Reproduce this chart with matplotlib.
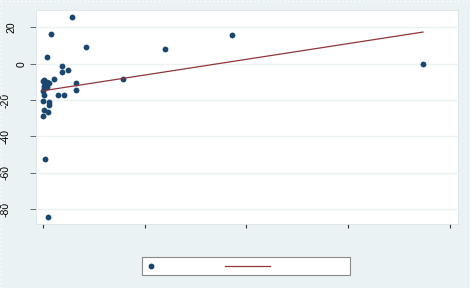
import matplotlib
matplotlib.use("Agg")
import matplotlib.pyplot as plt
from matplotlib.lines import Line2D
from matplotlib.patches import Rectangle
from matplotlib.legend_handler import HandlerLine2DCompound
from matplotlib.transforms import ScaledTranslation
import numpy as np

# ---- data ----
x_vals = [0.285, 0.078, 0.428, 0.042, 0.192, 0.245, 0.189, 0.108, 0.013, 0.0,
          0.039, 0.065, 0.026, 0.010, 0.039, 0.016, 0.006, 0.016, 0.327, 0.330,
          0.147, 0.209, 0.006, 0.059, 0.062, 0.013, 0.055, 0.0, 0.023, 0.049,
          0.790, 1.197, 1.860, 3.732]
y_vals = [25.8, 16.2, 9.0, 3.8, -1.1, -3.3, -4.7, -8.4, -8.8, -9.3,
          -9.9, -10.8, -11.2, -12.1, -12.6, -13.5, -15.0, -17.2, -10.4, -14.3,
          -17.0, -17.4, -20.3, -21.0, -22.5, -25.4, -26.7, -28.6, -52.4, -84.4,
          -8.5, 8.2, 15.9, 0.0]
fit_intercept = -14.9
fit_slope = 8.65
y_ticks = [20, 0, -20, -40, -60, -80]
x_ticks = [0, 1, 2, 3, 4]

BG = "#eaf2f3"
NAVY = "#1a476f"
MAROON = "#90353b"

plt.rcParams["font.family"] = ["Liberation Sans", "DejaVu Sans"]

fig = plt.figure(figsize=(4.76, 2.88), dpi=100, facecolor=BG)

# white strip at the right edge and dotted outer border (as in the reference)
fig.patches.append(Rectangle((470 / 476, 0), 6 / 476, 1, transform=fig.transFigure,
                             facecolor="white", edgecolor="none", zorder=0))
fig.add_artist(Line2D([0, 470 / 476], [0.998, 0.998], transform=fig.transFigure,
                      color="white", linewidth=1, linestyle=(0, (1, 2))))
fig.add_artist(Line2D([0.002, 0.002], [0, 1], transform=fig.transFigure,
                      color="white", linewidth=1, linestyle=(0, (1, 2))))

ax = fig.add_axes([36 / 476, 1 - 224 / 288, (458 - 36) / 476, (224 - 10) / 288])
ax.set_facecolor("white")

xs = np.array(x_vals)
ys = np.array(y_vals)
ax.plot(xs, ys, linestyle="none", marker="o", markersize=4.2,
        color=NAVY, markeredgewidth=0, zorder=3)
fx = np.array([xs.min(), xs.max()])
ax.plot(fx, fit_intercept + fit_slope * fx, color=MAROON, linewidth=0.9, zorder=4)

ax.set_xlim(-0.066, 4.076)
ax.set_ylim(-88.1, 29.5)
ax.set_yticks(y_ticks)
ax.set_yticklabels([str(v) for v in y_ticks], rotation=90, va="center")
ax.set_xticks(x_ticks)
ax.set_xticklabels([])
ax.grid(axis="y", color=BG, linewidth=1.0, zorder=0)
ax.set_axisbelow(True)
ax.tick_params(axis="y", length=4.2, width=0.7, color="#666666",
               labelsize=7.5, pad=2.2, labelcolor="black")
ax.tick_params(axis="x", length=3, width=0.8, color="#333333")
for s in ax.spines.values():
    s.set_color("#dde4e6")
    s.set_linewidth(0.6)

# Stata-style offset of rotated labels: longer labels sit further left
renderer = fig.canvas.get_renderer()
labels = ax.get_yticklabels()
widths = [renderer.get_text_width_height_descent(t.get_text(), t.get_fontproperties(), ismath=False)[0]
          for t in labels]
w0 = min(widths)
for t, w in zip(labels, widths):
    dx_px = -1.8 * (w - w0)
    t.set_transform(t.get_transform() + ScaledTranslation(dx_px / fig.dpi, 0, fig.dpi_scale_trans))


class LeftMarkerHandler(HandlerLine2DCompound):
    def get_xdata(self, legend, xdescent, ydescent, width, height, fontsize):
        xdata = np.array([-xdescent, -xdescent + width])
        return xdata, np.array([-xdescent + 0.1 * width])


h1 = Line2D([], [], linestyle="none", marker="o", markersize=4.2,
            color=NAVY, markeredgewidth=0)
h2 = Line2D([], [], color=MAROON, linewidth=0.9)
leg = fig.legend([h1, h2], [" ", " "], ncol=2, mode="expand",
                 loc="center",
                 bbox_to_anchor=(142 / 476, 1 - 275 / 288, 208 / 476, 18 / 288),
                 borderaxespad=0, fontsize=7.2, fancybox=False, frameon=True,
                 handlelength=4.5, handletextpad=7.3, borderpad=0.4,
                 handler_map={h1: LeftMarkerHandler(numpoints=1)})
leg.get_frame().set_edgecolor("#8a8a8a")
leg.get_frame().set_linewidth(0.8)
leg.get_frame().set_facecolor("white")
leg.get_frame().set_alpha(1)

fig.savefig("out.png", dpi=100, facecolor=BG)
